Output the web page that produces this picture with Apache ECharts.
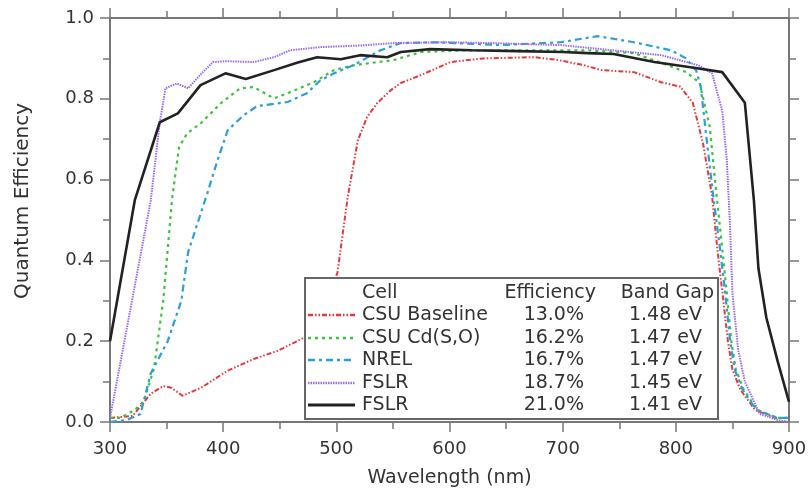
<!DOCTYPE html>
<html>
<head>
<meta charset="utf-8">
<script src="https://cdn.jsdelivr.net/npm/echarts@6/dist/echarts.min.js"></script>
<style>html,body{margin:0;padding:0;background:#fff;}#c{width:812px;height:494px;}</style>
</head>
<body>
<div id="c"></div>
<script>
// ---- Data ----
const xTicks = [300, 400, 500, 600, 700, 800, 900];
const yTicks = [0.0, 0.2, 0.4, 0.6, 0.8, 1.0];

const cells = ['CSU Baseline', 'CSU Cd(S,O)', 'NREL', 'FSLR', 'FSLR'];
const efficiencies = ['13.0%', '16.2%', '16.7%', '18.7%', '21.0%'];
const bandGaps = ['1.48 eV', '1.47 eV', '1.47 eV', '1.45 eV', '1.41 eV'];

const redWl = [300,320,336,347,354,364,380,404,427,448,471,487,501,510,519,527,536,548,557,575,601,630,675,696,719,734,763,787,804,815,824,832,837,842,846,850,857,870,888,900];
const redQE = [0.01,0.015,0.07,0.089,0.085,0.065,0.084,0.127,0.156,0.176,0.208,0.26,0.37,0.556,0.697,0.754,0.789,0.821,0.839,0.859,0.891,0.9,0.903,0.896,0.883,0.871,0.866,0.841,0.83,0.79,0.69,0.56,0.42,0.30,0.20,0.13,0.08,0.03,0.01,0.01];

const greenWl = [300,309,322,330,339,347,355,361,368,380,398,415,427,445,457,480,498,515,551,575,616,675,722,763,793,809,821,830,836,841,845,849,853,860,872,890,900];
const greenQE = [0.01,0.01,0.03,0.052,0.134,0.3,0.556,0.68,0.714,0.739,0.789,0.826,0.829,0.801,0.814,0.841,0.871,0.883,0.896,0.916,0.92,0.92,0.92,0.913,0.883,0.866,0.84,0.73,0.56,0.43,0.32,0.2,0.13,0.08,0.03,0.01,0.01];

const blueWl = [300,315,327,336,351,363,369,386,395,404,418,430,457,474,486,498,515,539,557,586,645,698,731,763,796,809,818,822,826,833,839,844,848,852,859,871,890,900];
const blueQE = [0.0,0.005,0.02,0.12,0.2,0.3,0.42,0.566,0.648,0.722,0.759,0.782,0.792,0.814,0.846,0.863,0.883,0.92,0.938,0.94,0.933,0.94,0.955,0.94,0.92,0.9,0.87,0.83,0.73,0.56,0.43,0.31,0.2,0.13,0.08,0.03,0.01,0.01];

const purpleWl = [300,336,344,349,359,369,380,391,402,427,445,459,486,522,551,598,636,698,745,787,820,832,841,845,848,850,855,861,874,890,900];
const purpleQE = [0.01,0.548,0.742,0.826,0.838,0.826,0.86,0.891,0.893,0.891,0.903,0.92,0.928,0.932,0.938,0.94,0.938,0.933,0.92,0.908,0.883,0.863,0.77,0.65,0.48,0.32,0.18,0.1,0.02,0.005,0.0];

const blackWl = [300,322,344,360,380,402,420,445,466,483,504,521,545,557,583,620,660,700,722,745,781,813,841,861,869,873,880,890,900];
const blackQE = [0.20,0.55,0.742,0.764,0.834,0.863,0.849,0.871,0.89,0.903,0.898,0.908,0.903,0.916,0.923,0.92,0.918,0.916,0.913,0.911,0.891,0.878,0.866,0.79,0.548,0.38,0.258,0.15,0.05];

// ---- Styles ----
const FONT = 'DejaVu Sans';
const TXT = '#333';
const AX = '#777';
const styles = [
  { color: '#e8383d', width: 2, dash: [5, 2, 1.5, 2, 1.5, 2] },
  { color: '#3cc23c', width: 2.2, dash: [3, 4] },
  { color: '#2c9fd6', width: 2.2, dash: [7, 4, 3, 4] },
  { color: '#9b6cf0', width: 2, dash: [1.5, 1] },
  { color: '#222222', width: 2.6, dash: null }
];
const wls = [redWl, greenWl, blueWl, purpleWl, blackWl];
const qes = [redQE, greenQE, blueQE, purpleQE, blackQE];

function zip(a, b) { return a.map((v, i) => [v, b[i]]); }

const series = wls.map((w, i) => ({
  name: cells[i] + ' ' + efficiencies[i],
  type: 'line',
  data: zip(w, qes[i]),
  showSymbol: false,
  symbol: 'none',
  silent: true,
  z: 2 + i,
  lineStyle: { color: styles[i].color, width: styles[i].width, type: styles[i].dash || 'solid' }
}));

// ---- Legend table (graphic) ----
const LX = 305, LY = 278, LW = 413, LH = 141;
const rowY = [315, 338, 360, 383, 405];
const legendEls = [
  { type: 'rect', shape: { x: LX, y: LY, width: LW, height: LH }, style: { fill: '#fff', stroke: '#666', lineWidth: 2 }, z: 100 },
  { type: 'text', x: 362, y: 293, style: { text: 'Cell', font: '19px ' + FONT, fill: TXT, textVerticalAlign: 'middle' }, z: 101 },
  { type: 'text', x: 596, y: 293, style: { text: 'Efficiency', font: '19px ' + FONT, fill: TXT, textAlign: 'right', textVerticalAlign: 'middle' }, z: 101 },
  { type: 'text', x: 714, y: 293, style: { text: 'Band Gap', font: '19px ' + FONT, fill: TXT, textAlign: 'right', textVerticalAlign: 'middle' }, z: 101 }
];
cells.forEach((c, i) => {
  legendEls.push({ type: 'line', shape: { x1: 308, y1: rowY[i], x2: 355, y2: rowY[i] },
    style: { stroke: styles[i].color, lineWidth: styles[i].width + 0.4, lineDash: styles[i].dash || null }, z: 101 });
  legendEls.push({ type: 'text', x: 362, y: rowY[i], style: { text: c, font: '19px ' + FONT, fill: TXT, textVerticalAlign: 'middle' }, z: 101 });
  legendEls.push({ type: 'text', x: 584, y: rowY[i], style: { text: efficiencies[i], font: '19px ' + FONT, fill: TXT, textAlign: 'right', textVerticalAlign: 'middle' }, z: 101 });
  legendEls.push({ type: 'text', x: 702, y: rowY[i], style: { text: bandGaps[i], font: '19px ' + FONT, fill: TXT, textAlign: 'right', textVerticalAlign: 'middle' }, z: 101 });
});

const axisCommon = {
  type: 'value',
  axisLine: { show: true, onZero: false, lineStyle: { color: AX, width: 2 } },
  axisTick: { show: true, inside: false, length: 10, lineStyle: { color: AX, width: 1.5 } },
  minorTick: { show: true, splitNumber: 2, length: 7, lineStyle: { color: AX, width: 1.5 } },
  splitLine: { show: false },
  minorSplitLine: { show: false }
};

const option = {
  animation: false,
  backgroundColor: '#fff',
  grid: { left: 110, right: 23, top: 18, bottom: 72 },
  xAxis: [
    Object.assign({}, axisCommon, {
      min: xTicks[0], max: xTicks[xTicks.length - 1], interval: 100, position: 'bottom',
      name: 'Wavelength (nm)', nameLocation: 'middle', nameGap: 47,
      nameTextStyle: { fontFamily: FONT, fontSize: 19, color: TXT },
      axisLabel: { show: true, margin: 18, fontFamily: FONT, fontSize: 18, color: TXT,
        formatter: v => (xTicks.indexOf(v) >= 0 ? String(v) : '') }
    }),
    Object.assign({}, axisCommon, {
      min: xTicks[0], max: xTicks[xTicks.length - 1], interval: 100, position: 'top',
      axisLabel: { show: false }
    })
  ],
  yAxis: [
    Object.assign({}, axisCommon, {
      min: yTicks[0], max: yTicks[yTicks.length - 1], interval: 0.2, position: 'left',
      name: 'Quantum Efficiency', nameLocation: 'middle', nameGap: 77,
      nameTextStyle: { fontFamily: FONT, fontSize: 20, color: TXT, padding: [0, 0, 0, 38] },
      axisLabel: { show: true, margin: 16, fontFamily: FONT, fontSize: 18, color: TXT,
        formatter: v => v.toFixed(1) }
    }),
    Object.assign({}, axisCommon, {
      min: yTicks[0], max: yTicks[yTicks.length - 1], interval: 0.2, position: 'right',
      axisLabel: { show: false }
    })
  ],
  series: series,
  graphic: { elements: legendEls }
};

const chart = echarts.init(document.getElementById('c'), null, { renderer: 'canvas' });
chart.setOption(option);
</script>
</body>
</html>
